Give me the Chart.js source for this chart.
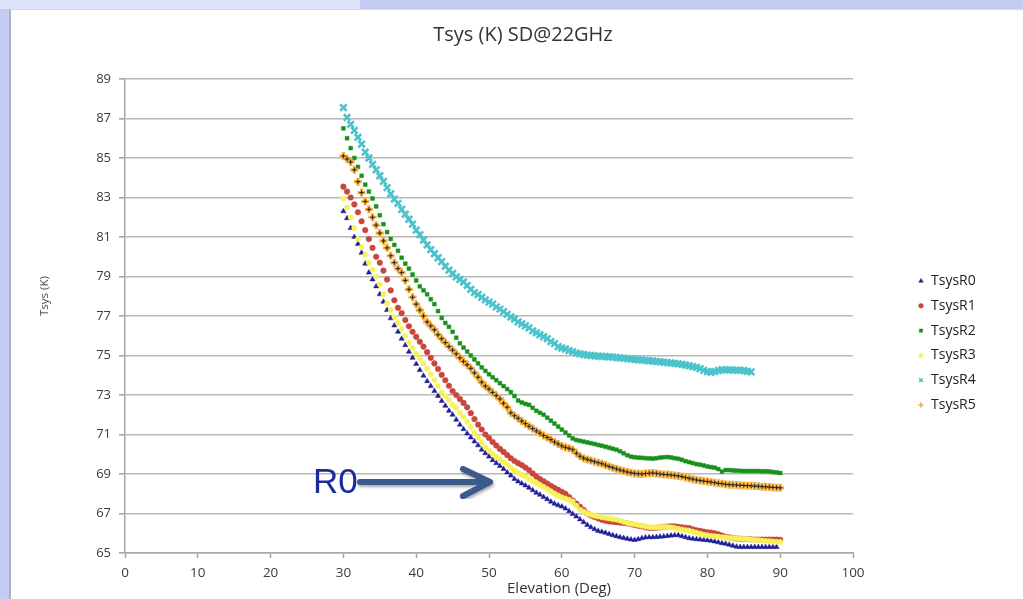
<!DOCTYPE html>
<html>
<head>
<meta charset="utf-8">
<script src="https://cdn.jsdelivr.net/npm/chart.js@4.4.1/dist/chart.umd.min.js"></script>
<style>
body{margin:0;width:1023px;height:599px;overflow:hidden;background:#c5ccf4;font-family:"Open Sans",sans-serif;position:relative}
#topbar{position:absolute;left:0;top:0;width:360px;height:9px;background:#dfe3f9}
#panel{position:absolute;left:9px;top:9px;width:1014px;height:590px;background:#fff;border-left:2px solid #b0b2c4;border-top:1px solid #d6d8e4}
#chart{position:absolute;left:0;top:0}
.txt{position:absolute;color:#333;white-space:nowrap}
#title{left:0;width:1046px;top:24px;text-align:center;font-size:20px;line-height:20px}
#xtitle{left:559px;top:580px;transform:translateX(-50%);font-size:15px;line-height:15px}
#ytitle{left:44px;top:296px;transform:translate(-50%,-50%) rotate(-90deg);font-size:11.5px;line-height:12px;color:#444}
#r0{left:313px;top:463px;font-family:"Liberation Sans",Arial,sans-serif;font-size:35px;line-height:35px;color:#1c2a9c}
#arrow{position:absolute;left:0;top:0}
</style>
</head>
<body>
<div id="topbar"></div>
<div id="panel"></div>
<canvas id="chart" width="1023" height="599"></canvas>
<div class="txt" id="title">Tsys (K) SD@22GHz</div>
<div class="txt" id="ytitle">Tsys (K)</div>
<div class="txt" id="xtitle">Elevation (Deg)</div>
<svg id="arrow" width="1023" height="599">
  <defs><filter id="sh"><feDropShadow dx="1" dy="2" stdDeviation="1.5" flood-opacity="0.35"/></filter></defs>
  <g stroke="#3a5a8c" stroke-width="6" stroke-linecap="round" stroke-linejoin="round" fill="none" filter="url(#sh)">
    <line x1="360" y1="482" x2="488" y2="482"/>
    <polyline points="463,469 490,482 463,496"/>
  </g>
</svg>
<div class="txt" id="r0">R0</div>
<script>
// elevation (deg), one reading every half degree
const elevation = [
  30,30.5,31,31.5,32,32.5,33,33.5,34,34.5,
  35,35.5,36,36.5,37,37.5,38,38.5,39,39.5,
  40,40.5,41,41.5,42,42.5,43,43.5,44,44.5,
  45,45.5,46,46.5,47,47.5,48,48.5,49,49.5,
  50,50.5,51,51.5,52,52.5,53,53.5,54,54.5,
  55,55.5,56,56.5,57,57.5,58,58.5,59,59.5,
  60,60.5,61,61.5,62,62.5,63,63.5,64,64.5,
  65,65.5,66,66.5,67,67.5,68,68.5,69,69.5,
  70,70.5,71,71.5,72,72.5,73,73.5,74,74.5,
  75,75.5,76,76.5,77,77.5,78,78.5,79,79.5,
  80,80.5,81,81.5,82,82.5,83,83.5,84,84.5,
  85,85.5,86,86.5,87,87.5,88,88.5,89,89.5,
  90
];

const tsysR0 = [
  82.3,81.95,81.45,81.0,80.65,80.2,79.65,79.2,78.85,78.5,
  78.1,77.72,77.3,76.88,76.52,76.2,75.85,75.52,75.19,74.88,
  74.57,74.26,73.98,73.7,73.45,73.2,72.95,72.7,72.45,72.2,
  72.0,71.75,71.5,71.27,71.05,70.85,70.65,70.45,70.23,70.05,
  69.88,69.7,69.55,69.4,69.25,69.08,68.92,68.75,68.62,68.52,
  68.42,68.3,68.18,68.05,67.95,67.83,67.72,67.6,67.5,67.42,
  67.35,67.25,67.12,66.98,66.85,66.7,66.56,66.42,66.3,66.2,
  66.12,66.07,66.02,65.96,65.9,65.85,65.8,65.76,65.72,65.68,
  65.66,65.7,65.75,65.79,65.8,65.8,65.81,65.82,65.84,65.86,
  65.88,65.9,65.9,65.85,65.8,65.75,65.72,65.7,65.68,65.66,
  65.65,65.62,65.58,65.54,65.5,65.47,65.42,65.37,65.32,65.3,
  65.3,65.3,65.3,65.3,65.3,65.3,65.3,65.3,65.3,65.3,
  null
];

const tsysR1 = [
  83.55,83.3,83.0,82.65,82.25,81.8,81.35,80.9,80.45,80.0,
  79.7,79.3,78.85,78.3,77.8,77.42,77.15,76.8,76.48,76.2,
  75.95,75.7,75.45,75.17,74.88,74.6,74.32,74.02,73.75,73.47,
  73.2,73.0,72.8,72.6,72.38,72.08,71.78,71.5,71.25,71.0,
  70.82,70.62,70.44,70.27,70.12,69.96,69.8,69.66,69.55,69.45,
  69.33,69.2,69.03,68.87,68.75,68.63,68.52,68.4,68.3,68.2,
  68.1,68.0,67.83,67.65,67.5,67.34,67.18,67.0,66.9,66.82,
  66.75,66.68,66.63,66.6,66.58,66.56,66.54,66.52,66.5,66.46,
  66.42,66.38,66.35,66.3,66.27,66.27,66.28,66.3,66.32,66.34,
  66.35,66.35,66.33,66.3,66.28,66.26,66.2,66.15,66.12,66.08,
  66.05,66.03,66.0,65.95,65.88,65.82,65.79,65.76,65.74,65.72,
  65.71,65.7,65.69,65.68,65.68,65.68,65.68,65.68,65.68,65.68,
  65.67
];

const tsysR2 = [
  86.5,86.0,85.5,85.0,84.55,84.1,83.65,83.3,82.95,82.55,
  82.1,81.65,81.25,80.9,80.6,80.3,79.95,79.65,79.4,79.1,
  78.8,78.5,78.3,78.1,77.85,77.6,77.25,76.9,76.65,76.45,
  76.2,75.9,75.62,75.4,75.2,75.0,74.8,74.6,74.4,74.22,
  74.05,73.9,73.75,73.6,73.45,73.3,73.15,72.95,72.72,72.62,
  72.55,72.5,72.35,72.2,72.1,72.0,71.85,71.7,71.55,71.4,
  71.25,71.1,70.95,70.8,70.72,70.68,70.64,70.6,70.56,70.52,
  70.47,70.43,70.38,70.33,70.28,70.23,70.15,70.05,69.95,69.88,
  69.85,69.83,69.82,69.8,69.79,69.78,69.8,69.83,69.85,69.86,
  69.84,69.8,69.77,69.72,69.65,69.6,69.55,69.5,69.47,69.43,
  69.38,69.35,69.32,69.25,69.12,69.2,69.2,69.18,69.17,69.16,
  69.15,69.15,69.15,69.15,69.15,69.14,69.14,69.13,69.1,69.08,
  69.05
];

const tsysR3 = [
  82.95,82.5,82.0,81.45,80.9,80.5,80.1,79.7,79.35,79.0,
  78.6,78.1,77.65,77.3,76.95,76.65,76.35,76.0,75.65,75.38,
  75.1,74.85,74.6,74.33,74.05,73.76,73.45,73.15,72.95,72.75,
  72.5,72.35,72.1,71.88,71.65,71.38,71.1,70.85,70.6,70.35,
  70.18,70.02,69.88,69.74,69.6,69.48,69.32,69.17,69.06,68.97,
  68.88,68.76,68.65,68.55,68.44,68.34,68.23,68.12,68.01,67.9,
  67.82,67.76,67.69,67.6,67.4,67.2,67.1,67.0,66.94,66.89,
  66.85,66.81,66.78,66.75,66.72,66.69,66.64,66.58,66.53,66.48,
  66.45,66.42,66.38,66.34,66.31,66.3,66.3,66.31,66.32,66.32,
  66.3,66.27,66.23,66.19,66.16,66.13,66.08,66.03,65.98,65.93,
  65.9,65.87,65.85,65.83,65.8,65.79,65.77,65.76,65.75,65.73,
  65.72,65.7,65.68,65.66,65.65,65.63,65.61,65.6,65.58,65.57,
  65.56
];

const tsysR4 = [
  87.55,87.05,86.7,86.4,86.05,85.7,85.3,85.0,84.68,84.4,
  84.1,83.82,83.5,83.18,82.92,82.7,82.4,82.15,81.9,81.65,
  81.35,81.12,80.85,80.6,80.36,80.15,79.95,79.75,79.52,79.32,
  79.15,78.98,78.85,78.72,78.55,78.35,78.18,78.08,77.95,77.82,
  77.7,77.6,77.46,77.35,77.22,77.08,76.95,76.85,76.7,76.6,
  76.5,76.4,76.25,76.15,76.05,75.95,75.85,75.7,75.6,75.45,
  75.38,75.33,75.25,75.2,75.12,75.08,75.05,75.02,75.0,74.98,
  74.97,74.95,74.95,74.93,74.92,74.9,74.88,74.86,74.84,74.82,
  74.8,74.78,74.77,74.75,74.73,74.72,74.7,74.68,74.66,74.64,
  74.62,74.6,74.58,74.55,74.52,74.48,74.44,74.4,74.33,74.25,
  74.18,74.15,74.18,74.24,74.28,74.28,74.27,74.26,74.26,74.25,
  74.24,74.2,74.17,null,null,null,null,null,null,null,
  null
];

const tsysR5 = [
  85.1,84.95,84.8,84.4,83.8,83.25,82.8,82.4,82.0,81.6,
  81.2,80.8,80.45,80.05,79.7,79.4,79.2,78.8,78.35,77.95,
  77.6,77.3,77.0,76.7,76.5,76.3,76.05,75.85,75.65,75.45,
  75.27,75.08,74.88,74.7,74.53,74.35,74.12,73.9,73.65,73.45,
  73.3,73.13,72.97,72.8,72.58,72.38,72.1,71.95,71.82,71.68,
  71.55,71.42,71.3,71.18,71.07,70.95,70.85,70.74,70.62,70.52,
  70.42,70.35,70.3,70.23,70.05,69.9,69.8,69.74,69.68,69.62,
  69.57,69.52,69.45,69.38,69.32,69.26,69.2,69.15,69.1,69.06,
  69.03,69.01,69.0,69.02,69.04,69.05,69.03,69.0,68.98,68.97,
  68.95,68.93,68.9,68.87,68.82,68.78,68.74,68.7,68.67,68.64,
  68.62,68.59,68.56,68.53,68.51,68.48,68.46,68.45,68.44,68.43,
  68.42,68.41,68.4,68.39,68.38,68.36,68.35,68.34,68.32,68.31,
  68.3
];

const seriesNames = ['TsysR0','TsysR1','TsysR2','TsysR3','TsysR4','TsysR5'];
const xTicks = [0,10,20,30,40,50,60,70,80,90,100];
const yTicks = [65,67,69,71,73,75,77,79,81,83,85,87,89];

function pts(arr){
  return elevation.map((e,i)=>({x:e,y:arr[i]})).filter(p=>p.y!==null);
}

const datasets = [
  {label:seriesNames[0],data:pts(tsysR0),pointStyle:'triangle',pointRadius:3,backgroundColor:'#1e1e98',borderColor:'#1e1e98',borderWidth:0.5,order:6},
  {label:seriesNames[1],data:pts(tsysR1),pointStyle:'circle',pointRadius:2.8,backgroundColor:'#c9463d',borderColor:'#c9463d',borderWidth:0.5,order:5},
  {label:seriesNames[2],data:pts(tsysR2),pointStyle:'rect',pointRadius:2.7,backgroundColor:'#18901a',borderColor:'#18901a',borderWidth:0.5,order:4},
  {label:seriesNames[3],data:pts(tsysR3),pointStyle:'circle',pointRadius:2.6,backgroundColor:'#f8f25a',borderColor:'#f8f25a',borderWidth:0.5,order:3},
  {label:seriesNames[4],data:pts(tsysR4),pointStyle:'crossRot',pointRadius:4.6,backgroundColor:'#4cc3cc',borderColor:'#4cc3cc',borderWidth:2.6,order:2},
  {label:seriesNames[5],data:pts(tsysR5),pointStyle:'cross',pointRadius:4,backgroundColor:'#f4ae3c',borderColor:'#f4ae3c',borderWidth:3.2,order:1},
  {label:'',noLegend:true,data:pts(tsysR5),pointStyle:'cross',pointRadius:2.2,backgroundColor:'#222',borderColor:'#222',borderWidth:1,order:0}
];

const sideLegend = {
  id:'sideLegend',
  afterDraw(chart){
    const ctx = chart.ctx;
    let row = 0;
    ctx.save();
    chart.data.datasets.forEach(d=>{
      if(d.noLegend) return;
      const y = 281 + row*24.8;
      ctx.fillStyle = d.backgroundColor;
      ctx.strokeStyle = d.borderColor;
      ctx.lineWidth = Math.min(d.borderWidth,1.6);
      if(Chart.helpers && Chart.helpers.drawPoint){
        Chart.helpers.drawPoint(ctx,{pointStyle:d.pointStyle,radius:Math.min(d.pointRadius,3)*0.85,borderWidth:ctx.lineWidth,rotation:0},921,y);
      }
      ctx.fillStyle = '#222';
      ctx.font = '14px "Open Sans"';
      ctx.textBaseline = 'middle';
      ctx.textAlign = 'left';
      ctx.fillText(d.label,931,y);
      row++;
    });
    ctx.restore();
  }
};

new Chart(document.getElementById('chart').getContext('2d'),{
  type:'scatter',
  data:{datasets:datasets},
  options:{
    responsive:false,
    animation:false,
    layout:{padding:{top:79,right:170,bottom:0,left:0}},
    plugins:{legend:{display:false},title:{display:false},tooltip:{enabled:false}},
    elements:{line:{borderWidth:0}},
    scales:{
      x:{
        type:'linear',min:0,max:100,
        afterBuildTicks:s=>{s.ticks=xTicks.map(v=>({value:v}));},
        afterFit:s=>{s.height=46;},
        grid:{drawOnChartArea:false,drawTicks:true,tickLength:5,tickColor:'#a6a6a6',tickWidth:1.5},
        border:{color:'#a6a6a6',width:1.5},
        ticks:{font:{family:'Open Sans',size:13.5},color:'#3c3c3c',padding:7,maxRotation:0}
      },
      y:{
        min:65,max:89,
        afterBuildTicks:s=>{s.ticks=yTicks.map(v=>({value:v}));},
        afterFit:s=>{s.width=125;},
        grid:{color:'#b8b8b8',lineWidth:1.6,tickLength:6,tickColor:'#a6a6a6'},
        border:{color:'#a6a6a6',width:1.5},
        ticks:{font:{family:'Open Sans',size:13},color:'#3c3c3c',padding:8}
      }
    }
  },
  plugins:[sideLegend]
});
</script>
</body>
</html>
